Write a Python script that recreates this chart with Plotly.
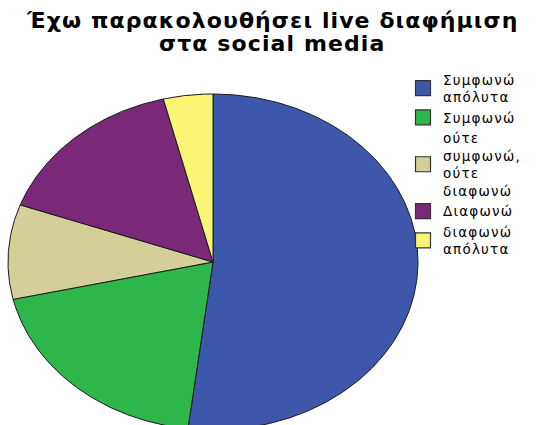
import numpy as np
import plotly.graph_objects as go

# Survey responses: "Έχω παρακολουθήσει live διαφήμιση στα social media"
categories = ["Συμφωνώ απόλυτα", "Συμφωνώ", "ούτε συμφωνώ, ούτε διαφωνώ",
              "Διαφωνώ", "διαφωνώ απόλυτα"]
legend_lines = [["Συμφωνώ", "απόλυτα"], ["Συμφωνώ"],
                ["ούτε", "συμφωνώ,", "ούτε", "διαφωνώ"],
                ["Διαφωνώ"], ["διαφωνώ", "απόλυτα"]]
counts = [40, 15, 7, 12, 3]
colors = ["#3D58AB", "#2DB64A", "#D4CF99", "#7B2878", "#FAF575"]
title_lines = ["Έχω παρακολουθήσει live διαφήμιση", "στα social media"]

W, H = 539, 425
# plot-area geometry (pixels) of the stretched (elliptical) pie
cx, cy, rx, ry = 213, 262, 205, 168
plot_l, plot_r, plot_t, plot_b = 0, 430, 80, 425


def spaced(text, px):
    return f'<span style="letter-spacing:{px}px">{text}</span>'


fig = go.Figure()

total = float(sum(counts))
start = 0.0
for lab, v, col in zip(categories, counts, colors):
    span = 2 * np.pi * v / total
    n = max(3, int(np.degrees(span) * 2))
    th = np.linspace(start, start + span, n)
    xs = np.concatenate([[0.0], np.sin(th), [0.0]])
    ys = np.concatenate([[0.0], np.cos(th), [0.0]])
    fig.add_trace(go.Scatter(
        x=xs, y=ys, mode="lines", fill="toself", fillcolor=col,
        line=dict(color="#1a1a1a", width=1), name=lab,
        showlegend=False, hoverinfo="name"))
    start += span

# legend entries with square swatches
for lines, col in zip(legend_lines, colors):
    fig.add_trace(go.Scatter(
        x=[None], y=[None], mode="markers",
        name="<br>".join(spaced(s, 1.2) for s in lines),
        marker=dict(symbol="square", size=15, color=col,
                    line=dict(color="#333333", width=1.2))))

# title, two centred lines
pw, ph = plot_r - plot_l, plot_b - plot_t
for line, py in zip(title_lines, [21, 43]):
    fig.add_annotation(
        text="<b>" + spaced(line, 1.1) + "</b>", xref="paper", yref="paper",
        x=(272 - plot_l) / pw, y=(plot_b - py) / ph,
        xanchor="center", yanchor="middle", showarrow=False,
        font=dict(family="DejaVu Sans", size=22, color="#000000"))

fig.update_layout(
    width=W, height=H,
    margin=dict(l=plot_l, r=W - plot_r, t=plot_t, b=H - plot_b,
                autoexpand=False),
    paper_bgcolor="white", plot_bgcolor="white",
    xaxis=dict(range=[(plot_l - cx) / rx, (plot_r - cx) / rx], visible=False,
               fixedrange=True),
    yaxis=dict(range=[-(plot_b - cy) / ry, (cy - plot_t) / ry], visible=False,
               fixedrange=True),
    legend=dict(xref="container", yref="container", x=403 / W, y=1 - 64 / H,
                xanchor="left", yanchor="top", bgcolor="rgba(0,0,0,0)",
                font=dict(family="DejaVu Sans", size=13.5, color="#000000"),
                itemwidth=30, tracegroupgap=0),
    showlegend=True,
)

fig.write_html("out.html")
